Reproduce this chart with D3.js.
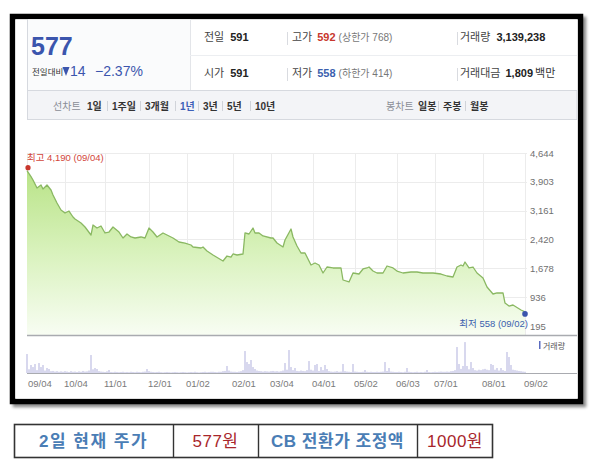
<!DOCTYPE html>
<html><head><meta charset="utf-8">
<script src="https://cdn.jsdelivr.net/npm/d3@7"></script>
<style>
html,body{margin:0;padding:0;background:#fff;}
svg{display:block;}
text{font-family:"Liberation Sans","Noto Sans CJK KR",sans-serif;}
</style></head>
<body>
<script>
// ---------- data ----------
const priceDay = [0,2,3,4,5,7,8,10,12,13,15,17,19,21,23,24,27,29,32,33,35,37,39,41,43,46,48,50,52,54,57,59,61,63,65,68,70,73,76,79,82,83,87,88,90,93,98,100,102,103,105,108,109,111,113,114,116,118,122,123,125,128,129,132,133,135,137,139,142,144,146,148,150,153,157,158,161,163,166,168,170,171,173,175,178,180,183,185,188,192,195,198,203,207,210,213,215,217,218,219,221,223,225,228,230,233,235,238,239,241,243,247,249];
const priceVal = [4190,4035,3950,3847,3744,3821,3718,3821,3692,3564,
3358,3178,3101,3152,2998,2947,2844,2741,2535,2792,
2715,2767,2587,2612,2741,2612,2458,2561,2484,2458,
2484,2458,2715,2612,2484,2587,2535,2458,2355,2329,
2278,2227,2201,2227,2124,2021,1867,1995,1969,2047,
2021,2047,2587,2561,2715,2587,2587,2510,2458,2458,
2329,2227,2407,2690,2484,2252,2072,2072,1764,1815,
1764,1558,1712,1687,1687,1378,1327,1558,1532,1661,
1687,1712,1609,1558,1558,1738,1687,1609,1558,1584,
1584,1558,1558,1532,1481,1455,1712,1764,1738,1841,
1687,1712,1558,1430,1198,1018,1044,1044,786,709,
735,606,558];
// daily volume (thousand shares), trading days 0..249
const volume = [4600,900,1940,1450,2180,700,2420,1450,1940,600,
1210,970,450,500,350,450,300,400,300,450,
350,250,450,300,350,250,400,300,500,350,
400,600,4360,900,1210,970,450,350,300,250,
400,730,250,200,300,250,200,250,300,200,
250,200,300,250,200,300,250,200,300,350,
970,450,300,250,200,250,300,200,150,200,
250,200,150,200,250,200,150,200,250,200,
150,200,250,200,300,200,150,200,250,300,
200,250,300,300,250,200,300,300,450,500,
1700,600,350,300,300,250,350,450,700,5330,
2660,2180,3150,1450,970,600,500,450,350,450,
400,350,450,500,400,450,350,450,600,2420,
800,5570,1450,700,1210,500,450,600,500,450,
700,2900,800,600,1940,2180,500,1450,700,1940,
970,450,350,300,350,450,300,350,2180,450,
350,300,250,2180,350,300,250,250,300,730,
300,250,300,250,250,300,250,300,350,2660,
500,1210,350,300,250,250,300,250,200,300,
1210,300,250,200,250,300,200,250,200,300,
730,250,200,250,300,250,300,350,300,300,
350,300,450,500,700,6300,2180,1000,1700,7500,
1700,900,2660,1210,700,600,800,700,900,1000,
800,700,2180,1940,800,1210,600,1210,700,500,
5090,3880,1940,800,700,600,500,450,350,300];
const yTickVals = [4644,3903,3161,2420,1678,936,195];
const xTickDays = [0,19,39,61,80,103,122,143,164,185,204,228,249];
const xTickLabels = ["09/04","10/04","11/01","12/01","01/02","02/01","03/04","04/01","05/02","06/03","07/01","08/01","09/02"];
const highLabel = "최고 4,190 (09/04)";
const lowLabel = "최저 558 (09/02)";
const periodTabs = ["1일","1주일","3개월","1년","3년","5년","10년"];
const candleTabs = ["일봉","주봉","월봉"];
const tableCells = ["2일 현재 주가","577원","CB 전환가 조정액","1000원"];

// ---------- drawing ----------
const W = 600, H = 465;
const svg = d3.select("body").append("svg").attr("width", W).attr("height", H);
const defs = svg.append("defs");
const sh = defs.append("filter").attr("id","sh").attr("x","-5%").attr("y","-5%").attr("width","112%").attr("height","112%");
sh.append("feDropShadow").attr("dx",3).attr("dy",3).attr("stdDeviation",1.8).attr("flood-color","#000").attr("flood-opacity",0.45);
const grad = defs.append("linearGradient").attr("id","gf").attr("gradientUnits","userSpaceOnUse")
  .attr("x1",0).attr("y1",153).attr("x2",0).attr("y2",335);
grad.append("stop").attr("offset","0").attr("stop-color","#b2e07c");
grad.append("stop").attr("offset","0.55").attr("stop-color","#d9f2bd");
grad.append("stop").attr("offset","1").attr("stop-color","#f8fdf3");

// frame
svg.append("rect").attr("x",12.5).attr("y",16.5).attr("width",568).attr("height",385)
  .attr("fill","#fff").attr("stroke","#000").attr("stroke-width",5.5).attr("filter","url(#sh)");
svg.append("rect").attr("x",15.5).attr("y",19.5).attr("width",562).attr("height",379).attr("fill","#fff");

// header
const hd = svg.append("g");
hd.append("rect").attr("x",27.5).attr("y",19.5).attr("width",163).attr("height",70.5).attr("fill","#fafbfc");
hd.append("line").attr("x1",27.5).attr("x2",27.5).attr("y1",19).attr("y2",120).attr("stroke","#d6d9df");
hd.append("line").attr("x1",190.5).attr("x2",190.5).attr("y1",19).attr("y2",90).attr("stroke","#e3e5e9");
hd.append("line").attr("x1",190).attr("x2",577).attr("y1",55.5).attr("y2",55.5).attr("stroke","#eceef1");
hd.append("rect").attr("x",27.5).attr("y",90.5).attr("width",549.5).attr("height",29).attr("fill","#f3f4f7").attr("stroke","#d6d9df");

hd.append("text").attr("x",31).attr("y",55).attr("font-size",25).attr("font-weight","bold").attr("fill","#3b55ad").text("577");
hd.append("text").attr("x",32).attr("y",75).attr("font-size",8.5).attr("fill","#333").attr("font-family","Noto Sans CJK KR").text("전일대비");
hd.append("path").attr("d","M62.5,67 L69.5,67 L66,76 Z").attr("fill","#3b55ad");
hd.append("text").attr("x",70).attr("y",76).attr("font-size",14).attr("fill","#3b55ad").text("14");
hd.append("text").attr("x",95).attr("y",76).attr("font-size",14).attr("fill","#3b55ad").text("−2.37%");

function kv(x, y, parts){
  const t = hd.append("text").attr("x",x).attr("y",y).attr("font-size",11);
  parts.forEach(p=>{
    t.append("tspan").attr("fill",p.c).attr("font-weight",p.b?"bold":"normal")
      .attr("font-size",p.s||11).attr("dx",p.dx||0).text(p.t);
  });
}
kv(204,41,[{t:"전일",c:"#444"},{t:"591",c:"#222",b:1,dx:6}]);
kv(204,77,[{t:"시가",c:"#444"},{t:"591",c:"#222",b:1,dx:6}]);
kv(292,41,[{t:"고가",c:"#444"},{t:"592",c:"#c8372d",b:1,dx:5},{t:"(상한가 768)",c:"#777",s:10,dx:3}]);
kv(292,77,[{t:"저가",c:"#444"},{t:"558",c:"#3b5fae",b:1,dx:5},{t:"(하한가 414)",c:"#777",s:10,dx:3}]);
kv(460,41,[{t:"거래량",c:"#444"},{t:"3,139,238",c:"#222",b:1,dx:6}]);
kv(460,77,[{t:"거래대금",c:"#444"},{t:"1,809",c:"#222",b:1,dx:5},{t:"백만",c:"#333",dx:2}]);
[287,457].forEach(x=>{
  [[32,45],[68,81]].forEach(r=>hd.append("line").attr("x1",x+0.5).attr("x2",x+0.5).attr("y1",r[0]).attr("y2",r[1]).attr("stroke","#d9dbe0"));
});

// toolbar
hd.append("text").attr("x",53).attr("y",110).attr("font-size",10).attr("fill","#8a8e96").text("선차트");
const tabX = [87,112,145,180,203,227,255];
periodTabs.forEach((t,i)=>{
  hd.append("text").attr("x",tabX[i]).attr("y",110).attr("font-size",10).attr("font-weight","bold")
    .attr("fill", t==="1년" ? "#3d5fb8" : "#333").text(t);
  if(i<periodTabs.length-1){
    const sx = tabX[i+1]-5;
    hd.append("line").attr("x1",sx+0.5).attr("x2",sx+0.5).attr("y1",101).attr("y2",111).attr("stroke","#d0d3d9");
  }
});
hd.append("text").attr("x",386).attr("y",110).attr("font-size",10).attr("fill","#8a8e96").text("봉차트");
const cX = [418,443,470];
candleTabs.forEach((t,i)=>{
  hd.append("text").attr("x",cX[i]).attr("y",110).attr("font-size",10).attr("font-weight","bold").attr("fill","#333").text(t);
  if(i<candleTabs.length-1){
    const sx = cX[i+1]-5;
    hd.append("line").attr("x1",sx+0.5).attr("x2",sx+0.5).attr("y1",101).attr("y2",111).attr("stroke","#d0d3d9");
  }
});

// scales
const x = d3.scaleLinear().domain([0,249]).range([27,525]);
const y = d3.scaleLinear().domain([195,4644]).range([326,153]);
const yv = d3.scaleLinear().domain([0,8000]).range([373,340]);

// grid
const g = svg.append("g");
yTickVals.forEach(v=>{
  g.append("line").attr("x1",27).attr("x2",527).attr("y1",Math.round(y(v))+0.5).attr("y2",Math.round(y(v))+0.5)
    .attr("stroke","#ececec");
  g.append("text").attr("x",530).attr("y",y(v)+3.5).attr("font-size",9.5).attr("fill","#707070")
    .text(d3.format(",")(v));
});
xTickDays.forEach(d=>{
  const xx = Math.round(x(d))+0.5;
  g.append("line").attr("x1",xx).attr("x2",xx).attr("y1",153).attr("y2",335).attr("stroke","#ececec");
});

// area + line
const pts = priceDay.map((d,i)=>({d, v: priceVal[i]}));
g.append("path").datum(pts).attr("fill","url(#gf)")
  .attr("d", d3.area().x(p=>x(p.d)).y0(335).y1(p=>y(p.v)));
g.append("path").datum(pts).attr("fill","none").attr("stroke","#8ab862").attr("stroke-width",1.3)
  .attr("stroke-linejoin","round")
  .attr("d", d3.line().x(p=>x(p.d)).y(p=>y(p.v)));

// axis separator line
svg.append("line").attr("x1",27).attr("x2",577).attr("y1",335.5).attr("y2",335.5).attr("stroke","#a9abb0").attr("stroke-width",1.5);

// high / low markers
const hi = pts[0], lo = pts[pts.length-1];
g.append("circle").attr("cx",x(hi.d)+1).attr("cy",y(hi.v)-3).attr("r",2.6).attr("fill","#c8372d");
g.append("text").attr("x",27).attr("y",161).attr("font-size",9.5).attr("fill","#d2463a").text(highLabel);
g.append("circle").attr("cx",x(lo.d)).attr("cy",y(lo.v)+2).attr("r",2.8).attr("fill","#3b55ad");
g.append("text").attr("x",528).attr("y",327).attr("text-anchor","end").attr("font-size",9.5).attr("fill","#3b5fae").text(lowLabel);

// volume
const vg = svg.append("g");
vg.selectAll("rect.v").data(volume).enter().append("rect")
  .attr("x",(v,i)=>x(i)-0.4).attr("width",0.8)
  .attr("y",v=>yv(v)).attr("height",v=>373-yv(v)).attr("fill","#9e9ed4");
vg.append("line").attr("x1",27).attr("x2",577).attr("y1",373.5).attr("y2",373.5).attr("stroke","#a9abb0");
vg.append("rect").attr("x",539).attr("y",341).attr("width",1.5).attr("height",8).attr("fill","#5b6cc0");
vg.append("text").attr("x",543).attr("y",348.5).attr("font-size",8).attr("fill","#555").attr("font-family","Noto Sans CJK KR").text("거래량");
xTickDays.forEach((d,i)=>{
  vg.append("text").attr("x",x(d)+(i===0?1:-1)).attr("y",387).attr("font-size",9.5).attr("fill","#7a7a7a").text(xTickLabels[i]);
});

// bottom table
const tb = svg.append("g");
const colX = [14,173,258,417,493];
const colors = ["#4a7db5","#a8262b","#4a7db5","#a8262b"];
tb.append("rect").attr("x",14.5).attr("y",424.5).attr("width",478).attr("height",33).attr("fill","#fff")
  .attr("stroke","#333").attr("stroke-width",1.6);
[173,258,417].forEach(cx=>tb.append("line").attr("x1",cx+0.5).attr("x2",cx+0.5).attr("y1",424).attr("y2",458).attr("stroke","#333").attr("stroke-width",1.4));
tableCells.forEach((t,i)=>{
  tb.append("text").attr("x",(colX[i]+colX[i+1])/2).attr("y",447).attr("text-anchor","middle")
    .attr("font-size",17).attr("font-family","Noto Sans CJK KR")
    .attr("font-weight", i%2===0 ? "bold" : "normal")
    .attr("letter-spacing", i===0 ? 1.5 : 0.5)
    .attr("fill",colors[i]).text(t);
});
</script>
</body></html>
